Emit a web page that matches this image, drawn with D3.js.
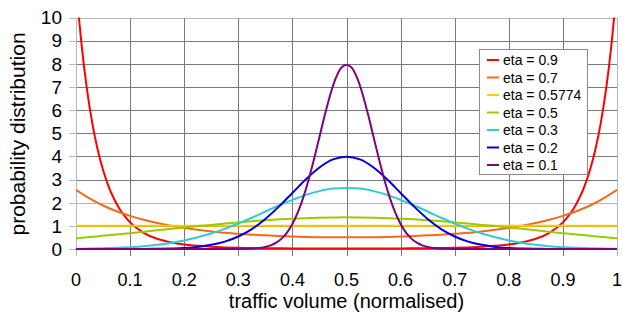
<!DOCTYPE html>
<html lang="en">
<head>
<meta charset="utf-8">
<title>traffic volume distribution</title>
<script src="https://cdn.jsdelivr.net/npm/d3@7/dist/d3.min.js"></script>
<style>
  body { margin: 0; background: #fff; }
  text { font-family: Arial, "Liberation Sans", sans-serif; fill: #000; }
  .grid line { stroke: #7a7a7a; stroke-width: 1px; shape-rendering: crispEdges; }
  .series { fill: none; stroke-width: 2px; }
</style>
</head>
<body>
<div id="chart"></div>
<script>
var width = 622, height = 316;

// series names + colours (legend order)
var etaLabels = ["eta = 0.9", "eta = 0.7", "eta = 0.5774", "eta = 0.5", "eta = 0.3", "eta = 0.2", "eta = 0.1"];
var etaColors = ["#ff0000", "#f26a1b", "#ffcc00", "#99cc00", "#33cccc", "#0000dd", "#800080"];

var xTicks = [0, 0.1, 0.2, 0.3, 0.4, 0.5, 0.6, 0.7, 0.8, 0.9, 1];
var xTickLabels = ["0", "0.1", "0.2", "0.3", "0.4", "0.5", "0.6", "0.7", "0.8", "0.9", "1"];
var yTicks = [0, 1, 2, 3, 4, 5, 6, 7, 8, 9, 10];

// common x grid (step 0.025)
var xGrid = [0, 0.025, 0.05, 0.075, 0.1, 0.125, 0.15, 0.175, 0.2, 0.225, 0.25, 0.275, 0.3, 0.325, 0.35, 0.375, 0.4, 0.425, 0.45, 0.475,
  0.5, 0.525, 0.55, 0.575, 0.6, 0.625, 0.65, 0.675, 0.7, 0.725, 0.75, 0.775, 0.8, 0.825, 0.85, 0.875, 0.9, 0.925, 0.95, 0.975, 1];

// eta = 0.9 (needs finer sampling near the edges)
var xRed = [0, 0.005, 0.01, 0.015, 0.02, 0.03, 0.04, 0.05, 0.06, 0.07, 0.08, 0.09, 0.1, 0.125, 0.15, 0.175, 0.2, 0.25, 0.3, 0.35, 0.4, 0.45, 0.5,
  0.55, 0.6, 0.65, 0.7, 0.75, 0.8, 0.825, 0.85, 0.875, 0.9, 0.91, 0.92, 0.93, 0.94, 0.95, 0.96, 0.97, 0.98, 0.985, 0.99, 0.995, 1];
var redVals = [11.45, 10.08, 8.89, 7.85, 6.94, 5.45, 4.30, 3.41, 2.72, 2.18, 1.75, 1.42, 1.15, 0.70, 0.44, 0.29, 0.19, 0.10, 0.05, 0.035, 0.025, 0.021, 0.02,
  0.021, 0.025, 0.035, 0.05, 0.10, 0.19, 0.29, 0.44, 0.70, 1.15, 1.42, 1.75, 2.18, 2.72, 3.41, 4.30, 5.45, 6.94, 7.85, 8.89, 10.08, 11.45];

// eta = 0.7
var orangeVals = [2.56, 2.19, 1.88, 1.63, 1.43, 1.26, 1.12, 1.00, 0.91, 0.83, 0.76, 0.70, 0.66, 0.62, 0.59, 0.56, 0.54, 0.52, 0.51, 0.51,
  0.505, 0.51, 0.51, 0.52, 0.54, 0.56, 0.59, 0.62, 0.66, 0.70, 0.76, 0.83, 0.91, 1.00, 1.12, 1.26, 1.43, 1.63, 1.88, 2.19, 2.56];

// eta = 0.5774 (flat)
var xYellow = [0, 1];
var yellowVals = [1, 1];

// eta = 0.5
var greenVals = [0.46, 0.52, 0.57, 0.63, 0.68, 0.74, 0.81, 0.87, 0.93, 0.99, 1.04, 1.10, 1.15, 1.20, 1.24, 1.28, 1.31, 1.33, 1.35, 1.36,
  1.37, 1.36, 1.35, 1.33, 1.31, 1.28, 1.24, 1.20, 1.15, 1.10, 1.04, 0.99, 0.93, 0.87, 0.81, 0.74, 0.68, 0.63, 0.57, 0.52, 0.46];

// eta = 0.3
var cyanVals = [0.01, 0.02, 0.03, 0.05, 0.08, 0.12, 0.18, 0.26, 0.37, 0.51, 0.67, 0.87, 1.10, 1.35, 1.62, 1.88, 2.12, 2.34, 2.50, 2.61,
  2.64, 2.61, 2.50, 2.34, 2.12, 1.88, 1.62, 1.35, 1.10, 0.87, 0.67, 0.51, 0.37, 0.26, 0.18, 0.12, 0.08, 0.05, 0.03, 0.02, 0.01];

// eta = 0.2
var blueVals = [0, 0, 0, 0, 0, 0, 0.01, 0.02, 0.04, 0.09, 0.18, 0.32, 0.54, 0.86, 1.30, 1.83, 2.42, 3.01, 3.52, 3.87,
  3.99, 3.87, 3.52, 3.01, 2.42, 1.83, 1.30, 0.86, 0.54, 0.32, 0.18, 0.09, 0.04, 0.02, 0.01, 0, 0, 0, 0, 0, 0];

// eta = 0.1 (narrow peak, step 0.01 around the centre)
var xPurple = [0, 0.1, 0.2, 0.25, 0.3, 0.31, 0.32, 0.33, 0.34, 0.35, 0.36, 0.37, 0.38, 0.39, 0.4, 0.41, 0.42, 0.43, 0.44, 0.45, 0.46, 0.47, 0.48, 0.49,
  0.5, 0.51, 0.52, 0.53, 0.54, 0.55, 0.56, 0.57, 0.58, 0.59, 0.6, 0.61, 0.62, 0.63, 0.64, 0.65, 0.66, 0.67, 0.68, 0.69, 0.7, 0.75, 0.8, 0.9, 1];
var purpleVals = [0, 0, 0, 0, 0.003, 0.006, 0.012, 0.025, 0.048, 0.089, 0.158, 0.272, 0.448, 0.710, 1.080, 1.579, 2.218, 2.995, 3.884, 4.839, 5.794, 6.665, 7.366, 7.821,
  7.96, 7.821, 7.366, 6.665, 5.794, 4.839, 3.884, 2.995, 2.218, 1.579, 1.080, 0.710, 0.448, 0.272, 0.158, 0.089, 0.048, 0.025, 0.012, 0.006, 0.003, 0, 0, 0, 0];

var seriesX = [xRed, xGrid, xYellow, xGrid, xGrid, xGrid, xPurple];
var seriesY = [redVals, orangeVals, yellowVals, greenVals, cyanVals, blueVals, purpleVals];

var svg = d3.select("#chart").append("svg")
    .attr("width", width)
    .attr("height", height);

var x = d3.scaleLinear().domain([0, 1]).range([76, 617]);
var y = d3.scaleLinear().domain([0, 10]).range([249, 17.5]);

// gridlines
var grid = svg.append("g").attr("class", "grid");
grid.selectAll(".hline").data(yTicks).enter().append("line")
    .attr("x1", x(0)).attr("x2", x(1))
    .attr("y1", function(d) { return Math.round(y(d)) + 0.5; })
    .attr("y2", function(d) { return Math.round(y(d)) + 0.5; })
    .style("stroke", function(d) { return (d == 2 || d == 10) ? "#b8b8b8" : "#7a7a7a"; });
grid.selectAll(".vline").data(xTicks).enter().append("line")
    .attr("y1", y(10)).attr("y2", y(0) + 7)
    .attr("x1", function(d) { return Math.round(x(d)) + 0.5; })
    .attr("x2", function(d) { return Math.round(x(d)) + 0.5; })
    .style("stroke", function(d) { return (d == 0 || d == 1) ? "#b8b8b8" : "#7a7a7a"; });
// y tick marks
grid.selectAll(".ytick").data(yTicks).enter().append("line")
    .attr("x1", x(0) - 7).attr("x2", x(0))
    .attr("y1", function(d) { return Math.round(y(d)) + 0.5; })
    .attr("y2", function(d) { return Math.round(y(d)) + 0.5; })
    .style("stroke", "#b8b8b8");

svg.append("clipPath").attr("id", "plotclip")
  .append("rect")
    .attr("x", x(0)).attr("y", y(10))
    .attr("width", x(1) - x(0)).attr("height", y(0) - y(10) + 1);

var line = d3.line().curve(d3.curveMonotoneX);

var lines = svg.append("g").attr("clip-path", "url(#plotclip)");
etaLabels.forEach(function(name, i) {
  var pts = seriesX[i].map(function(xv, j) { return [x(xv), y(seriesY[i][j])]; });
  lines.append("path")
    .attr("class", "series")
    .attr("d", line(pts))
    .style("stroke", etaColors[i]);
});

// tick labels
svg.selectAll(".ylab").data(yTicks).enter().append("text")
    .attr("x", 62)
    .attr("y", function(d) { return y(d); })
    .attr("dy", "0.36em")
    .attr("text-anchor", "end")
    .style("font-size", "19px")
    .text(function(d) { return d; });

svg.selectAll(".xlab").data(xTicks).enter().append("text")
    .attr("x", function(d) { return x(d); })
    .attr("y", 286)
    .attr("text-anchor", "middle")
    .style("font-size", "18px")
    .text(function(d, i) { return xTickLabels[i]; });

// axis titles
svg.append("text")
    .attr("x", x(0.5))
    .attr("y", 308)
    .attr("text-anchor", "middle")
    .style("font-size", "20px")
    .text("traffic volume (normalised)");

svg.append("text")
    .attr("transform", "translate(25,134) rotate(-90)")
    .attr("text-anchor", "middle")
    .style("font-size", "21px")
    .text("probability distribution");

// legend
var legend = svg.append("g");
legend.append("rect")
    .attr("x", 479.5).attr("y", 49.5)
    .attr("width", 108).attr("height", 125)
    .style("fill", "#fff")
    .style("stroke", "#8c8c8c");
etaLabels.forEach(function(name, i) {
  var ly = 60 + i * 17.5;
  legend.append("line")
    .attr("x1", 487).attr("x2", 499)
    .attr("y1", ly).attr("y2", ly)
    .style("stroke", etaColors[i])
    .style("stroke-width", 2);
  legend.append("text")
    .attr("x", 503).attr("y", ly)
    .attr("dy", "0.36em")
    .style("font-size", "14px")
    .text(name);
});
</script>
</body>
</html>
